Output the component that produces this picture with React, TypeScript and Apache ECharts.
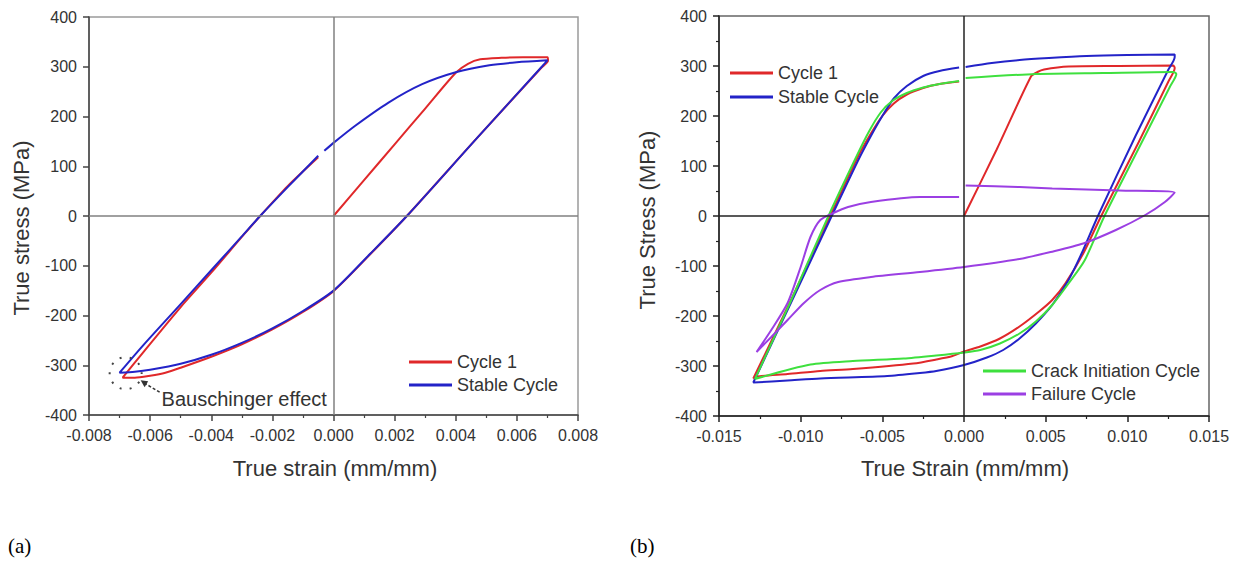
import React, { useEffect, useRef } from "react";
import * as echarts from "echarts";

type P = [number, number];

// ---- (a) left chart data: true strain (mm/mm), true stress (MPa)
const leftCycle1: P[] = [
  [0, 0], [0.001, 72], [0.002, 144], [0.003, 216], [0.004, 288], [0.0044, 306], [0.0048, 315],
  [0.0055, 318], [0.0062, 319], [0.007, 319], [0.00702, 312], [0.0068, 298],
  [0.0047, 157], [0.0024, 0], [0.0012, -77], [0, -151], [-0.001, -193], [-0.002, -228], [-0.003, -258],
  [-0.004, -283], [-0.005, -305], [-0.0055, -315], [-0.006, -321], [-0.0065, -325], [-0.0069, -325],
  [-0.0062, -272], [-0.005, -183], [-0.004, -114], [-0.003, -42], [-0.0024, 0], [-0.0015, 60], [-0.0005, 118],
];
const leftStable: P[] = [
  [-0.0003, 131], [0, 147], [0.0007, 181], [0.0018, 228], [0.0029, 265], [0.004, 289], [0.0051, 303],
  [0.006, 309], [0.007, 313], [0.0068, 299],
  [0.0047, 157], [0.0024, 0], [0.0012, -76], [0, -150], [-0.001, -191], [-0.002, -226], [-0.003, -255],
  [-0.004, -279], [-0.005, -297], [-0.006, -309], [-0.0065, -313], [-0.007, -315],
  [-0.0062, -258], [-0.005, -177], [-0.004, -109], [-0.003, -41], [-0.0024, 0], [-0.0015, 58], [-0.0005, 121],
];

// ---- (b) right chart data
const rightCycle1: P[] = [
  [0, 0], [0.002, 133], [0.0041, 279], [0.0045, 288], [0.0049, 293], [0.0064, 299], [0.0095, 300],
  [0.0128, 301], [0.0129, 296], [0.0125, 268],
  [0.0107, 148], [0.0084, 0], [0.0073, -75], [0.0062, -135], [0.0054, -168], [0.0046, -191], [0.0034, -221],
  [0.0022, -245], [0.001, -261], [0, -271], [-0.0007, -280], [-0.0017, -287], [-0.0031, -295],
  [-0.0068, -306], [-0.0088, -310], [-0.0108, -316], [-0.0127, -321], [-0.0129, -325],
  [-0.0105, -162], [-0.0082, 0], [-0.0065, 118], [-0.0057, 165], [-0.005, 200], [-0.0043, 225],
  [-0.0035, 243], [-0.0025, 256], [-0.0015, 264], [-0.0003, 269],
];
const rightStable: P[] = [
  [0.0001, 298], [0.0017, 306], [0.0034, 312], [0.0052, 316], [0.0075, 320], [0.01, 322], [0.0129, 323],
  [0.0129, 318], [0.0125, 292],
  [0.0105, 160], [0.0082, 0], [0.0072, -75], [0.0064, -128], [0.0054, -178], [0.0044, -215], [0.0034, -245],
  [0.0024, -268], [0.0014, -283], [0, -298], [-0.0017, -310], [-0.0027, -314], [-0.0047, -320],
  [-0.0088, -325], [-0.0108, -329], [-0.0129, -333],
  [-0.0105, -167], [-0.0081, 0], [-0.0065, 110], [-0.0057, 160], [-0.005, 200], [-0.0043, 235],
  [-0.0035, 260], [-0.0025, 280], [-0.0015, 290], [-0.0003, 297],
];
const rightCrack: P[] = [
  [0.0001, 276], [0.0044, 284], [0.0085, 286], [0.0128, 288], [0.013, 284], [0.0126, 258],
  [0.0108, 142], [0.0086, 0], [0.0074, -88], [0.0064, -135], [0.0054, -178], [0.0044, -211], [0.0034, -235],
  [0.0022, -255], [0.001, -268], [0, -273], [-0.0017, -279], [-0.0037, -285], [-0.0068, -290],
  [-0.0094, -297], [-0.0128, -326],
  [-0.0106, -170], [-0.0083, 0], [-0.0066, 118], [-0.0058, 170], [-0.0051, 207], [-0.0044, 230],
  [-0.0035, 246], [-0.0025, 257], [-0.0015, 264], [-0.0003, 270],
];
const rightFailure: P[] = [
  [0.0001, 61], [0.0034, 58], [0.0054, 55], [0.0075, 53], [0.0095, 51], [0.0129, 47],
  [0.0123, 28], [0.0111, 2], [0.0093, -28], [0.0073, -55], [0.0053, -72], [0.0034, -86], [0, -102],
  [-0.0027, -112], [-0.0057, -122], [-0.0077, -132], [-0.0088, -148], [-0.0098, -174], [-0.0108, -208],
  [-0.0118, -242], [-0.0127, -272],
  [-0.0118, -228], [-0.0108, -174], [-0.01, -102], [-0.0094, -42], [-0.0088, -8], [-0.008, 6],
  [-0.0071, 18], [-0.0057, 28], [-0.0027, 38], [-0.0003, 38],
];

const leftX = { min: -0.008, max: 0.008, interval: 0.002 };
const rightX = { min: -0.015, max: 0.015, interval: 0.005 };
const stressY = { min: -400, max: 400, interval: 100 };

const COLORS = { red: "#e0282a", blue: "#2323c8", green: "#3ee03e", purple: "#9b3fe3" };
const FONT = "Liberation Sans, Arial, Helvetica, sans-serif";

export default function App() {
  const ref = useRef<HTMLDivElement>(null);
  useEffect(() => {
    document.body.style.margin = "0";
    const chart = echarts.init(ref.current!, null, { renderer: "svg" });
    const fmt = (v: number) => (Math.abs(v) < 1e-9 ? "0.000" : v.toFixed(3));
    const label = (f?: (v: number) => string) => ({
      fontSize: 16, color: "#333", fontFamily: FONT, margin: 12, formatter: f,
    });
    const mkX = (gi: number, r: any, color: string) => ({
      gridIndex: gi, type: "value", min: r.min, max: r.max, interval: r.interval,
      axisLine: { onZero: false, lineStyle: { color, width: 1.5 } },
      axisTick: { show: true, inside: false, length: 6, lineStyle: { color, width: 1.5 } },
      minorTick: { show: true, splitNumber: 2, length: 3, lineStyle: { color, width: 1.2 } },
      splitLine: { show: false }, minorSplitLine: { show: false },
      axisLabel: label(fmt),
    });
    const mkY = (gi: number, color: string, minor: boolean) => ({
      gridIndex: gi, type: "value", min: stressY.min, max: stressY.max, interval: stressY.interval,
      axisLine: { onZero: false, lineStyle: { color, width: 1.5 } },
      axisTick: { show: true, inside: false, length: 6, lineStyle: { color, width: 1.5 } },
      minorTick: { show: minor, splitNumber: 2, length: 3, lineStyle: { color, width: 1.2 } },
      splitLine: { show: false }, minorSplitLine: { show: false },
      axisLabel: label((v: number) => String(v)),
    });
    const line = (name: string, data: P[], color: string, gi: number) => ({
      name, type: "line", data, xAxisIndex: gi, yAxisIndex: gi, symbol: "none", smooth: 0.25,
      lineStyle: { color, width: 2 }, itemStyle: { color }, z: 3,
    });
    const zero = (gi: number, color: string) => ({
      name: "zero" + gi, type: "line", data: [], xAxisIndex: gi, yAxisIndex: gi, z: 1, silent: true,
      markLine: {
        silent: true, symbol: ["none", "none"], label: { show: false },
        lineStyle: { color, width: 1.5, type: "solid" },
        data: [{ xAxis: 0 }, { yAxis: 0 }],
      },
    });
    const legendBase = {
      orient: "vertical", icon: "rect", itemWidth: 43, itemHeight: 3, padding: 0, selectedMode: false,
      textStyle: { fontSize: 18, color: "#333", fontFamily: FONT, lineHeight: 20 },
    };
    chart.setOption({
      animation: false,
      backgroundColor: "#fff",
      grid: [
        { left: 89, top: 17, width: 489, height: 398, show: true, borderColor: "#9a9a9a", borderWidth: 1.5 },
        { left: 719, top: 16, width: 490, height: 400, show: true, borderColor: "#666", borderWidth: 1.5 },
      ],
      xAxis: [mkX(0, leftX, "#444"), mkX(1, rightX, "#222")],
      yAxis: [mkY(0, "#444", false), mkY(1, "#222", true)],
      legend: [
        { ...legendBase, left: 409, top: 352, itemGap: 3, data: ["Cycle 1", "Stable Cycle"] },
        { ...legendBase, left: 730, top: 63, itemGap: 4, data: ["Cycle 1", "Stable Cycle"] },
        { ...legendBase, left: 983, top: 361, itemGap: 3, data: ["Crack Initiation Cycle", "Failure Cycle"] },
      ],
      series: [
        zero(0, "#808080"),
        zero(1, "#222"),
        line("Cycle 1", leftCycle1, COLORS.red, 0),
        line("Stable Cycle", leftStable, COLORS.blue, 0),
        line("Cycle 1", rightCycle1, COLORS.red, 1),
        line("Stable Cycle", rightStable, COLORS.blue, 1),
        line("Crack Initiation Cycle", rightCrack, COLORS.green, 1),
        line("Failure Cycle", rightFailure, COLORS.purple, 1),
      ],
    });
    const c = chart.convertToPixel({ gridIndex: 0 }, [-0.0069, -320]) as number[];
    const cx = c[0] + 3, cy = c[1] - 3;
    const txt = (text: string, x: number, y: number, size: number, extra: any = {}) => ({
      type: "text", x, y, ...extra,
      style: { text, fontSize: size, fill: "#333", fontFamily: FONT, align: "center", verticalAlign: "middle", ...(extra.style || {}) },
    });
    chart.setOption({
      graphic: [
        { type: "circle", shape: { cx, cy, r: 16 }, style: { fill: "none", stroke: "#444", lineWidth: 2, lineDash: [2, 8] }, z: 10 },
        { type: "line", shape: { x1: cx + 34, y1: cy + 20, x2: cx + 19, y2: cy + 11 }, style: { stroke: "#333", lineWidth: 1.5, lineDash: [3, 2] }, z: 10 },
        { type: "polygon", shape: { points: [[cx + 15, cy + 8], [cx + 22.5, cy + 9], [cx + 19, cy + 15]] }, style: { fill: "#333" }, z: 10 },
        txt("Bauschinger effect", cx + 36, cy + 27, 20, { style: { align: "left" } }),
        txt("True stress (MPa)", 21, 228, 22, { rotation: Math.PI / 2 }),
        txt("True strain (mm/mm)", 335, 468, 22),
        txt("True Stress (MPa)", 647, 220, 22, { rotation: Math.PI / 2 }),
        txt("True Strain (mm/mm)", 965, 468, 22),
        txt("(a)", 8, 546, 21, { style: { align: "left", fill: "#000", fontFamily: "Liberation Serif, Times New Roman, serif" } }),
        txt("(b)", 630, 546, 21, { style: { align: "left", fill: "#000", fontFamily: "Liberation Serif, Times New Roman, serif" } }),
      ],
    });
    return () => chart.dispose();
  }, []);
  return <div ref={ref} style={{ position: "fixed", left: 0, top: 0, width: 1243, height: 564 }} />;
}
